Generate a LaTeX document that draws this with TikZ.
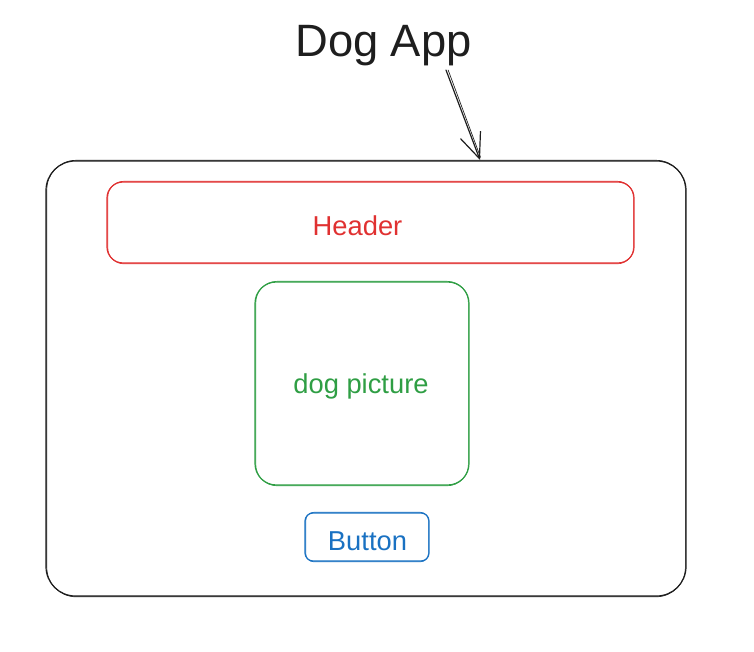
\documentclass[tikz,border=0pt]{standalone}
\usepackage{fontspec}
\setmainfont{Liberation Sans}
\usetikzlibrary{arrows.meta}
\definecolor{ink}{HTML}{1E1E1E}
\definecolor{hdred}{HTML}{E03131}
\definecolor{picgreen}{HTML}{2F9E44}
\definecolor{btnblue}{HTML}{1971C2}
\begin{document}
\begin{tikzpicture}[x=0.75pt, y=-0.75pt, line join=round, line cap=round,
	>={Straight Barb[length=19pt,width=16pt]},
	boxtext/.style={font=\fontsize{20.5}{24}\selectfont, inner sep=0pt, anchor=base}]
	\useasboundingbox (0,0) rectangle (754,652);
	\path
	(446,70) coordinate (S)
	(480,160) coordinate (T);
	\node[ink, font=\fontsize{34}{40}\selectfont, inner sep=0pt, anchor=base] (title) at (383.5,57) {Dog App};
	% each box is stroked twice, slightly apart, for the hand-drawn look
	\foreach \c/\r/\xa/\ya/\xb/\yb in {ink/22/46/161/686/596, hdred/12/107/182/634/263,
		picgreen/16/255/282/469/485, btnblue/6/305/513/429/561}
	{
		\draw[\c, line width=0.9pt, rounded corners=\r pt] (\xa,\ya) rectangle (\xb,\yb);
		\draw[\c, line width=0.5pt, rounded corners=\r pt] (\xa+0.8,\ya-0.7) rectangle (\xb-0.6,\yb+0.8);
	}
	\node[boxtext, hdred] (header) at (357.5,236) {Header};
	\node[boxtext, picgreen] (picture) at (361,394) {dog picture};
	\node[boxtext, btnblue] (button) at (367.5,550) {Button};
	\draw[ink, line width=0.9pt, ->] (S) -- (T);
	\draw[ink, line width=0.5pt] ([xshift=1.6pt]S) -- ([xshift=0.4pt, yshift=2pt]T);
\end{tikzpicture}
\end{document}
